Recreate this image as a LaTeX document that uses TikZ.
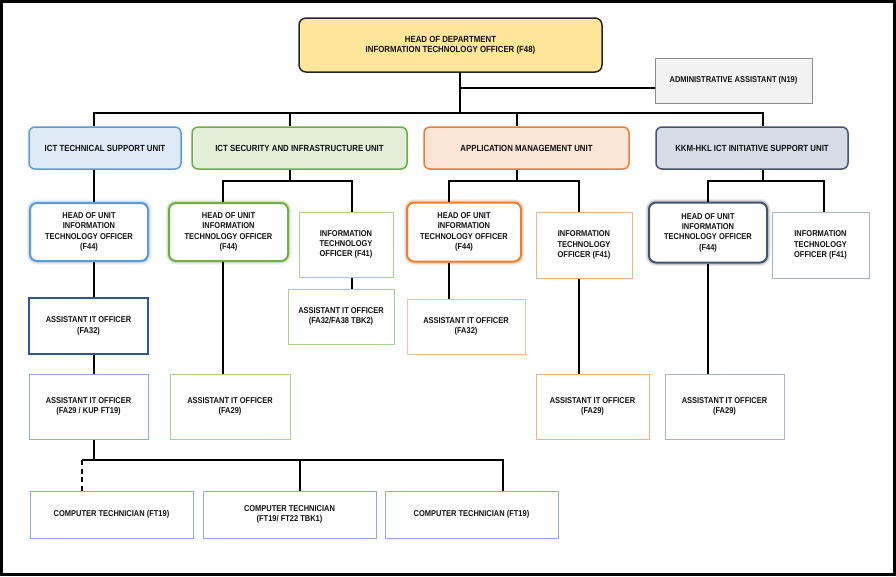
\documentclass[tikz,border=0pt]{standalone}
\usepackage{fontspec}
\setmainfont{Liberation Sans}[FakeStretch=0.88]
\definecolor{bluebd}{HTML}{5B9BD5}
\definecolor{bluefill}{HTML}{DEEBF7}
\definecolor{greenbd}{HTML}{70AD47}
\definecolor{greenfill}{HTML}{E2F0D9}
\definecolor{orangebd}{HTML}{ED7D31}
\definecolor{orangefill}{HTML}{FBE5D6}
\definecolor{slatebd}{HTML}{44546A}
\definecolor{slatefill}{HTML}{D6DCE5}
\definecolor{topfill}{HTML}{FFE699}
\definecolor{topbd}{HTML}{262626}
\definecolor{adminfill}{HTML}{F2F2F2}
\definecolor{adminbd}{HTML}{8C8C8C}
\definecolor{darkblue}{HTML}{2F5597}
\definecolor{lightblue}{HTML}{8FAADC}
\definecolor{lightgreen}{HTML}{A9D18E}
\definecolor{lightorange}{HTML}{F4B183}
\definecolor{lightslate}{HTML}{A9B4C2}
\definecolor{txtcol}{HTML}{111111}
\begin{document}
\begin{tikzpicture}[x=1pt,y=-1pt,
  txt/.style={font=\fontsize{8.5}{10.3}\selectfont\bfseries, align=center, text=txtcol, inner sep=0pt},
  rbox/.style={txt, draw=#1, fill=white, line width=1pt},
  unitbox/.style 2 args={txt, font=\fontsize{8.9}{10.3}\selectfont\bfseries, draw=#1, fill=#2, line width=1.5pt, rounded corners=6pt},
  headbox/.style={txt, draw=#1, fill=white, line width=2pt, rounded corners=7pt,
     preaction={draw=#1, line width=7pt, opacity=0.12},
     preaction={draw=#1, line width=4.5pt, opacity=0.2}},
  conn/.style={line width=1.8pt, black}
]
\useasboundingbox (0,0) rectangle (896,576);
\fill[white] (0,0) rectangle (896,576);

% top level
\node[txt, font=\fontsize{8.9}{10.3}\selectfont\bfseries, draw=topbd, fill=topfill, line width=1.5pt, rounded corners=7pt,
  minimum width=303pt, minimum height=54pt] (top) at (450.5,45) {HEAD OF DEPARTMENT\\INFORMATION TECHNOLOGY OFFICER (F48)};
\node[txt, draw=adminbd, fill=adminfill, line width=1pt, minimum width=157pt, minimum height=45pt] (admin) at (733.5,80.5) {ADMINISTRATIVE ASSISTANT (N19)};

% units
\node[unitbox={bluebd}{bluefill}, minimum width=152pt, minimum height=42pt] (u1) at (105,148) {ICT TECHNICAL SUPPORT UNIT};
\node[unitbox={greenbd}{greenfill}, minimum width=215pt, minimum height=42pt] (u2) at (299.5,148) {ICT SECURITY AND INFRASTRUCTURE UNIT};
\node[unitbox={orangebd}{orangefill}, minimum width=205pt, minimum height=42pt] (u3) at (526.5,148) {APPLICATION MANAGEMENT UNIT};
\node[unitbox={slatebd}{slatefill}, minimum width=192pt, minimum height=42pt] (u4) at (752,148) {KKM-HKL ICT INITIATIVE SUPPORT UNIT};

% heads of unit
\node[headbox=bluebd, minimum width=118pt, minimum height=58pt] (h1) at (89,232) {HEAD OF UNIT\\INFORMATION\\TECHNOLOGY OFFICER\\(F44)};
\node[headbox=greenbd, minimum width=119pt, minimum height=58pt] (h2) at (228.5,232) {HEAD OF UNIT\\INFORMATION\\TECHNOLOGY OFFICER\\(F44)};
\node[headbox=orangebd, minimum width=114pt, minimum height=59pt] (h3) at (464,232) {HEAD OF UNIT\\INFORMATION\\TECHNOLOGY OFFICER\\(F44)};
\node[headbox=slatebd, minimum width=118pt, minimum height=60pt] (h4) at (708,232.5) {HEAD OF UNIT\\INFORMATION\\TECHNOLOGY OFFICER\\(F44)};

% IT officers F41
\node[rbox=lightgreen, minimum width=94pt, minimum height=65pt] (o2) at (346,244.5) {INFORMATION\\TECHNOLOGY\\OFFICER (F41)};
\node[rbox=lightorange, minimum width=96pt, minimum height=66pt] (o3) at (584,245) {INFORMATION\\TECHNOLOGY\\OFFICER (F41)};
\node[rbox=lightslate, minimum width=97pt, minimum height=66pt] (o4) at (820.5,245) {INFORMATION\\TECHNOLOGY\\OFFICER (F41)};

% assistants FA32
\node[rbox=darkblue, line width=1.3pt, minimum width=119pt, minimum height=56pt] (a1) at (88.5,326) {ASSISTANT IT OFFICER\\(FA32)};
\node[rbox=lightgreen, minimum width=106pt, minimum height=55pt] (a2) at (341,316.5) {ASSISTANT IT OFFICER\\(FA32/FA38 TBK2)};
\node[rbox=lightorange!80!white, minimum width=118pt, minimum height=55pt] (a3) at (466,326.5) {ASSISTANT IT OFFICER\\(FA32)};

% assistants FA29
\node[rbox=lightblue, minimum width=119pt, minimum height=65pt] (f1) at (88.5,406.5) {ASSISTANT IT OFFICER\\(FA29 / KUP FT19)};
\node[rbox=lightgreen, minimum width=120pt, minimum height=65pt] (f2) at (230,406.5) {ASSISTANT IT OFFICER\\(FA29)};
\node[rbox=lightorange, minimum width=113pt, minimum height=65pt] (f3) at (592.5,406.5) {ASSISTANT IT OFFICER\\(FA29)};
\node[rbox=lightslate, minimum width=119pt, minimum height=65pt] (f4) at (724.5,406.5) {ASSISTANT IT OFFICER\\(FA29)};

% computer technicians
\node[rbox=lightblue, minimum width=163pt, minimum height=47pt] (c1) at (111.5,514.5) {COMPUTER TECHNICIAN (FT19)};
\node[rbox=lightblue, minimum width=173pt, minimum height=47pt] (c2) at (289.5,514.5) {COMPUTER TECHNICIAN\\(FT19/ FT22 TBK1)};
\node[rbox=lightblue, minimum width=173pt, minimum height=47pt] (c3) at (471.5,514.5) {COMPUTER TECHNICIAN (FT19)};

% connectors: top level
\coordinate (j0) at (460,113);
\coordinate (ja) at (460,88);
\draw[conn] (top.south -| j0) -- (j0);
\draw[conn] (ja) -- (ja -| admin.west);
\coordinate (bL) at (94,113);
\coordinate (bR) at (763,113);
\coordinate (b2) at (290,113);
\coordinate (b3) at (517,113);
\draw[conn] (bL |- u1.north) -- (bL) -- (bR) -- (bR |- u4.north);
\draw[conn] (b2) -- (b2 |- u2.north);
\draw[conn] (b3) -- (b3 |- u3.north);

% unit 1
\draw[conn] (bL |- u1.south) -- (bL |- h1.north);
\draw[conn] (bL |- h1.south) -- (bL |- a1.north);
\draw[conn] (bL |- a1.south) -- (bL |- f1.north);
\coordinate (ct) at (94,460);
\coordinate (ctL) at (82,460);
\coordinate (ctM) at (300,460);
\coordinate (ctR) at (503,460);
\draw[conn] (ct |- f1.south) -- (ct);
\draw[conn] (ctL) -- (ctR) -- (ctR |- c3.north);
\draw[conn] (ctM) -- (ctM |- c2.north);
\draw[conn, dash pattern=on 5pt off 3.5pt] (ctL) -- (ctL |- c1.north);

% unit 2
\coordinate (s0) at (290,181);
\coordinate (sL) at (223,181);
\coordinate (sR) at (352,181);
\draw[conn] (b2 |- u2.south) -- (s0);
\draw[conn] (sL |- h2.north) -- (sL) -- (sR) -- (sR |- o2.north);
\draw[conn] (sL |- h2.south) -- (sL |- f2.north);
\draw[conn] (sR |- o2.south) -- (sR |- a2.north);

% unit 3
\coordinate (p0) at (517,181);
\coordinate (pL) at (449,181);
\coordinate (pR) at (579,181);
\draw[conn] (b3 |- u3.south) -- (p0);
\draw[conn] (pL |- h3.north) -- (pL) -- (pR) -- (pR |- o3.north);
\draw[conn] (pL |- h3.south) -- (pL |- a3.north);
\draw[conn] (pR |- o3.south) -- (pR |- f3.north);

% unit 4
\coordinate (k0) at (763,181);
\coordinate (kL) at (708,181);
\coordinate (kR) at (824,181);
\draw[conn] (bR |- u4.south) -- (k0);
\draw[conn] (kL |- h4.north) -- (kL) -- (kR) -- (kR |- o4.north);
\draw[conn] (kL |- h4.south) -- (kL |- f4.north);

% frame
\draw[line width=3.4pt, black] (1.7,1.7) rectangle (894.3,574.3);
\end{tikzpicture}
\end{document}
